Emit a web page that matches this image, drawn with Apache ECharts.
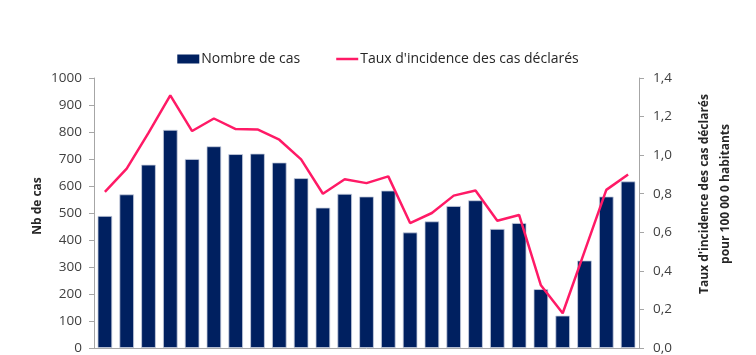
<!DOCTYPE html>
<html><head><meta charset="utf-8">
<script src="https://cdn.jsdelivr.net/npm/echarts@6/dist/echarts.min.js"></script>
<style>html,body{margin:0;padding:0;background:#fff}#c{width:756px;height:355px}</style>
</head><body><div id="c"></div>
<script>
const categories = ['1','2','3','4','5','6','7','8','9','10','11','12','13','14','15','16','17','18','19','20','21','22','23','24','25'];
const nombreDeCas = [489,569,679,808,700,747,718,720,687,629,520,571,561,583,428,469,526,547,441,463,218,120,324,561,617];
const tauxIncidence = [0.81,0.93,1.115,1.31,1.125,1.19,1.135,1.133,1.08,0.978,0.80,0.875,0.855,0.89,0.648,0.70,0.79,0.817,0.66,0.69,0.325,0.18,0.50,0.82,0.90];
const leftTicks = {min:0,max:1000,interval:100};
const rightTicks = {min:0,max:1.4,interval:0.2};

const chart = echarts.init(document.getElementById('c'), null, {renderer:'canvas'});
const font = 'Open Sans';
chart.setOption({
  animation:false,
  textStyle:{fontFamily:font},
  legend:{
    top:47, left:'center',
    itemGap:36, itemWidth:22, itemHeight:9, symbolKeepAspect:true,
    textStyle:{fontFamily:font,fontSize:14,color:'#262626',padding:[0,0,0,-3]},
    data:[
      {name:'Nombre de cas',icon:'rect',itemStyle:{color:'#002060',borderWidth:0}},
      {name:"Taux d'incidence des cas déclarés",icon:'path://M0,0H22V2.5H0Z',itemStyle:{color:'#ff1a66',borderWidth:0}}
    ]
  },
  grid:{left:94,right:117,top:78,bottom:5,containLabel:false},
  xAxis:{
    type:'category', data:categories,
    axisLine:{lineStyle:{color:'#a6a6a6',width:1}},
    axisTick:{show:false}, axisLabel:{show:false}
  },
  yAxis:[
    {type:'value',min:leftTicks.min,max:leftTicks.max,interval:leftTicks.interval,
     axisLine:{show:true,lineStyle:{color:'#a6a6a6'}},
     axisTick:{show:true,length:5,lineStyle:{color:'#a6a6a6'}},
     splitLine:{show:false},
     axisLabel:{fontFamily:font,fontSize:13.5,color:'#404040',margin:12,formatter:v=>String(v)}},
    {type:'value',min:rightTicks.min,max:rightTicks.max,interval:rightTicks.interval,
     axisLine:{show:true,lineStyle:{color:'#a6a6a6'}},
     axisTick:{show:true,length:5,lineStyle:{color:'#a6a6a6'}},
     splitLine:{show:false},
     axisLabel:{fontFamily:font,fontSize:13.5,color:'#404040',margin:14,
       formatter:v=>v.toFixed(1).replace('.',',')}}
  ],
  graphic:[
    {type:'text',
     style:{text:'Nb de cas',font:'bold 12px "Open Sans"',fill:'#262626',textAlign:'center',textVerticalAlign:'middle'},
     x:38,y:206,rotation:Math.PI/2},
    {type:'text',
     style:{text:"Taux d'incidence des cas déclarés\npour 100 00 0 habitants",font:'bold 12px "Open Sans"',fill:'#262626',textAlign:'center',textVerticalAlign:'middle',lineHeight:21},
     x:715,y:194,rotation:Math.PI/2}
  ],
  series:[
    {name:'Nombre de cas',type:'bar',data:nombreDeCas,yAxisIndex:0,barCategoryGap:'33%',
     itemStyle:{color:'#002060',borderColor:'#c9d1e0',borderWidth:0.8}},
    {name:"Taux d'incidence des cas déclarés",type:'line',data:tauxIncidence,yAxisIndex:1,
     symbol:'none',lineStyle:{color:'#ff1a66',width:2.5},itemStyle:{color:'#ff1a66'}}
  ]
});
</script></body></html>
